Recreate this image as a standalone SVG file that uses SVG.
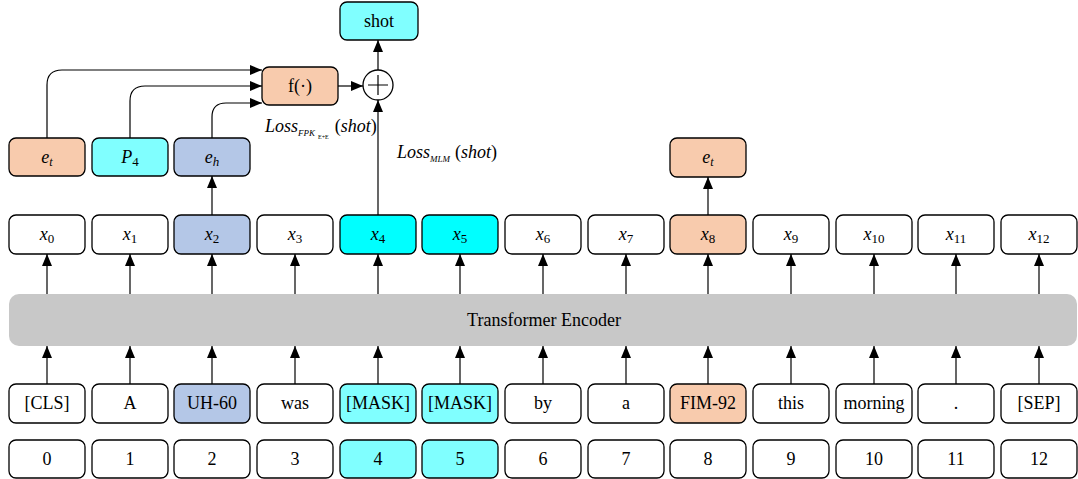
<svg xmlns="http://www.w3.org/2000/svg" width="1078" height="479" viewBox="0 0 1078 479" font-family="'Liberation Serif', 'Times New Roman', Tinos, 'DejaVu Serif', serif">
<defs>
<marker id="ah" markerUnits="userSpaceOnUse" markerWidth="12" markerHeight="14" refX="12" refY="5" orient="auto">
<path d="M0,0 L12,5 L0,10 Z" fill="#000"/>
</marker>
<style>
.b{stroke:#000;stroke-width:1.3;}
.w{fill:#fff;}
.pe{fill:#F8CBAD;}
.lc{fill:#80FFFF;}
.bc{fill:#00FFFF;}
.bl{fill:#B4C7E7;}
.t{font-size:18px;text-anchor:middle;}
.i{font-style:italic;}
.c{fill:none;stroke:#000;stroke-width:1.2;}
</style>
</defs>
<rect x="9" y="294" width="1068" height="52" rx="10" fill="#C8C8C8"/>
<text x="544" y="326" class="t" font-size="17">Transformer Encoder</text>
<g id="connectors">
<path class="c" d="M47,384 V346" marker-end="url(#ah)"/>
<path class="c" d="M130,384 V346" marker-end="url(#ah)"/>
<path class="c" d="M212,384 V346" marker-end="url(#ah)"/>
<path class="c" d="M295,384 V346" marker-end="url(#ah)"/>
<path class="c" d="M378,384 V346" marker-end="url(#ah)"/>
<path class="c" d="M460,384 V346" marker-end="url(#ah)"/>
<path class="c" d="M543,384 V346" marker-end="url(#ah)"/>
<path class="c" d="M626,384 V346" marker-end="url(#ah)"/>
<path class="c" d="M708,384 V346" marker-end="url(#ah)"/>
<path class="c" d="M791,384 V346" marker-end="url(#ah)"/>
<path class="c" d="M874,384 V346" marker-end="url(#ah)"/>
<path class="c" d="M956,384 V346" marker-end="url(#ah)"/>
<path class="c" d="M1039,384 V346" marker-end="url(#ah)"/>
<path class="c" d="M47,294 V254" marker-end="url(#ah)"/>
<path class="c" d="M130,294 V254" marker-end="url(#ah)"/>
<path class="c" d="M212,294 V254" marker-end="url(#ah)"/>
<path class="c" d="M295,294 V254" marker-end="url(#ah)"/>
<path class="c" d="M378,294 V254" marker-end="url(#ah)"/>
<path class="c" d="M460,294 V254" marker-end="url(#ah)"/>
<path class="c" d="M543,294 V254" marker-end="url(#ah)"/>
<path class="c" d="M626,294 V254" marker-end="url(#ah)"/>
<path class="c" d="M708,294 V254" marker-end="url(#ah)"/>
<path class="c" d="M791,294 V254" marker-end="url(#ah)"/>
<path class="c" d="M874,294 V254" marker-end="url(#ah)"/>
<path class="c" d="M956,294 V254" marker-end="url(#ah)"/>
<path class="c" d="M1039,294 V254" marker-end="url(#ah)"/>
<path class="c" d="M212,215 V176" marker-end="url(#ah)"/>
<path class="c" d="M708,215 V177" marker-end="url(#ah)"/>
<path class="c" d="M378,215 V100" marker-end="url(#ah)"/>
<path class="c" d="M47,138 V85 Q47,70 62,70 H262" marker-end="url(#ah)"/>
<path class="c" d="M130,138 V101 Q130,86 145,86 H262" marker-end="url(#ah)"/>
<path class="c" d="M212,138 V117 Q212,103 226,103 H262" marker-end="url(#ah)"/>
<path class="c" d="M338,86 H363" marker-end="url(#ah)"/>
<path class="c" d="M378,70 V40" marker-end="url(#ah)"/>
</g>
<g id="shot"><rect class="b lc" x="340" y="2" width="78" height="38" rx="7"/><text class="t" x="379" y="27">shot</text></g>
<g id="f"><rect class="b pe" x="262" y="67" width="76" height="38" rx="7"/><text class="t" x="300" y="92">f(·)</text></g>
<g id="plus"><circle cx="378" cy="85" r="15" fill="#fff" stroke="#000" stroke-width="1.3"/><path d="M368,85 H388 M378,75 V95" stroke="#000" stroke-width="1.2"/></g>
<g id="lossfpk"><text x="265" y="132" font-size="18"><tspan class="i">Loss</tspan><tspan class="i" font-size="9" dy="4">FPK</tspan><tspan font-size="6" dy="3" dx="3">E+E</tspan><tspan dy="-7" dx="6">(</tspan><tspan class="i">shot</tspan><tspan>)</tspan></text></g>
<g id="lossmlm"><text x="397" y="158" font-size="18"><tspan class="i">Loss</tspan><tspan class="i" font-size="9" dy="4">MLM</tspan><tspan dy="-4" dx="5">(</tspan><tspan class="i">shot</tspan><tspan>)</tspan></text></g>
<g id="et1"><rect class="b pe" x="9" y="138" width="76" height="38" rx="7"/><text class="t" x="47" y="163"><tspan class="i">e</tspan><tspan class="i" font-size="12" dy="3">t</tspan></text></g>
<g id="p4"><rect class="b lc" x="92" y="138" width="76" height="38" rx="7"/><text class="t" x="130" y="163"><tspan class="i">P</tspan><tspan font-size="13" dy="3">4</tspan></text></g>
<g id="eh"><rect class="b bl" x="174" y="138" width="76" height="38" rx="7"/><text class="t" x="212" y="163"><tspan class="i">e</tspan><tspan class="i" font-size="13" dy="3">h</tspan></text></g>
<g id="et2"><rect class="b pe" x="670" y="138" width="76" height="39" rx="7"/><text class="t" x="708" y="163"><tspan class="i">e</tspan><tspan class="i" font-size="12" dy="3">t</tspan></text></g>
<g id="x0"><rect class="b w" x="9" y="215" width="76" height="39" rx="7"/><text class="t" x="47" y="240"><tspan class="i">x</tspan><tspan font-size="13" dy="3">0</tspan></text></g>
<g id="x1"><rect class="b w" x="92" y="215" width="76" height="39" rx="7"/><text class="t" x="130" y="240"><tspan class="i">x</tspan><tspan font-size="13" dy="3">1</tspan></text></g>
<g id="x2"><rect class="b bl" x="174" y="215" width="76" height="39" rx="7"/><text class="t" x="212" y="240"><tspan class="i">x</tspan><tspan font-size="13" dy="3">2</tspan></text></g>
<g id="x3"><rect class="b w" x="257" y="215" width="76" height="39" rx="7"/><text class="t" x="295" y="240"><tspan class="i">x</tspan><tspan font-size="13" dy="3">3</tspan></text></g>
<g id="x4"><rect class="b bc" x="340" y="215" width="76" height="39" rx="7"/><text class="t" x="378" y="240"><tspan class="i">x</tspan><tspan font-size="13" dy="3">4</tspan></text></g>
<g id="x5"><rect class="b bc" x="422" y="215" width="76" height="39" rx="7"/><text class="t" x="460" y="240"><tspan class="i">x</tspan><tspan font-size="13" dy="3">5</tspan></text></g>
<g id="x6"><rect class="b w" x="505" y="215" width="76" height="39" rx="7"/><text class="t" x="543" y="240"><tspan class="i">x</tspan><tspan font-size="13" dy="3">6</tspan></text></g>
<g id="x7"><rect class="b w" x="588" y="215" width="76" height="39" rx="7"/><text class="t" x="626" y="240"><tspan class="i">x</tspan><tspan font-size="13" dy="3">7</tspan></text></g>
<g id="x8"><rect class="b pe" x="670" y="215" width="76" height="39" rx="7"/><text class="t" x="708" y="240"><tspan class="i">x</tspan><tspan font-size="13" dy="3">8</tspan></text></g>
<g id="x9"><rect class="b w" x="753" y="215" width="76" height="39" rx="7"/><text class="t" x="791" y="240"><tspan class="i">x</tspan><tspan font-size="13" dy="3">9</tspan></text></g>
<g id="x10"><rect class="b w" x="836" y="215" width="76" height="39" rx="7"/><text class="t" x="874" y="240"><tspan class="i">x</tspan><tspan font-size="13" dy="3">10</tspan></text></g>
<g id="x11"><rect class="b w" x="918" y="215" width="76" height="39" rx="7"/><text class="t" x="956" y="240"><tspan class="i">x</tspan><tspan font-size="13" dy="3">11</tspan></text></g>
<g id="x12"><rect class="b w" x="1001" y="215" width="76" height="39" rx="7"/><text class="t" x="1039" y="240"><tspan class="i">x</tspan><tspan font-size="13" dy="3">12</tspan></text></g>
<g id="tok0"><rect class="b w" x="9" y="384" width="76" height="39" rx="7"/><text class="t" x="47" y="409">[CLS]</text></g>
<g id="tok1"><rect class="b w" x="92" y="384" width="76" height="39" rx="7"/><text class="t" x="130" y="409">A</text></g>
<g id="tok2"><rect class="b bl" x="174" y="384" width="76" height="39" rx="7"/><text class="t" x="212" y="409">UH-60</text></g>
<g id="tok3"><rect class="b w" x="257" y="384" width="76" height="39" rx="7"/><text class="t" x="295" y="409">was</text></g>
<g id="tok4"><rect class="b lc" x="340" y="384" width="76" height="39" rx="7"/><text class="t" x="378" y="409">[MASK]</text></g>
<g id="tok5"><rect class="b lc" x="422" y="384" width="76" height="39" rx="7"/><text class="t" x="460" y="409">[MASK]</text></g>
<g id="tok6"><rect class="b w" x="505" y="384" width="76" height="39" rx="7"/><text class="t" x="543" y="409">by</text></g>
<g id="tok7"><rect class="b w" x="588" y="384" width="76" height="39" rx="7"/><text class="t" x="626" y="409">a</text></g>
<g id="tok8"><rect class="b pe" x="670" y="384" width="76" height="39" rx="7"/><text class="t" x="708" y="409">FIM-92</text></g>
<g id="tok9"><rect class="b w" x="753" y="384" width="76" height="39" rx="7"/><text class="t" x="791" y="409">this</text></g>
<g id="tok10"><rect class="b w" x="836" y="384" width="76" height="39" rx="7"/><text class="t" x="874" y="409">morning</text></g>
<g id="tok11"><rect class="b w" x="918" y="384" width="76" height="39" rx="7"/><text class="t" x="956" y="409">.</text></g>
<g id="tok12"><rect class="b w" x="1001" y="384" width="76" height="39" rx="7"/><text class="t" x="1039" y="409">[SEP]</text></g>
<g id="idx0"><rect class="b w" x="9" y="440" width="76" height="38" rx="7"/><text class="t" x="47" y="465">0</text></g>
<g id="idx1"><rect class="b w" x="92" y="440" width="76" height="38" rx="7"/><text class="t" x="130" y="465">1</text></g>
<g id="idx2"><rect class="b w" x="174" y="440" width="76" height="38" rx="7"/><text class="t" x="212" y="465">2</text></g>
<g id="idx3"><rect class="b w" x="257" y="440" width="76" height="38" rx="7"/><text class="t" x="295" y="465">3</text></g>
<g id="idx4"><rect class="b lc" x="340" y="440" width="76" height="38" rx="7"/><text class="t" x="378" y="465">4</text></g>
<g id="idx5"><rect class="b lc" x="422" y="440" width="76" height="38" rx="7"/><text class="t" x="460" y="465">5</text></g>
<g id="idx6"><rect class="b w" x="505" y="440" width="76" height="38" rx="7"/><text class="t" x="543" y="465">6</text></g>
<g id="idx7"><rect class="b w" x="588" y="440" width="76" height="38" rx="7"/><text class="t" x="626" y="465">7</text></g>
<g id="idx8"><rect class="b w" x="670" y="440" width="76" height="38" rx="7"/><text class="t" x="708" y="465">8</text></g>
<g id="idx9"><rect class="b w" x="753" y="440" width="76" height="38" rx="7"/><text class="t" x="791" y="465">9</text></g>
<g id="idx10"><rect class="b w" x="836" y="440" width="76" height="38" rx="7"/><text class="t" x="874" y="465">10</text></g>
<g id="idx11"><rect class="b w" x="918" y="440" width="76" height="38" rx="7"/><text class="t" x="956" y="465">11</text></g>
<g id="idx12"><rect class="b w" x="1001" y="440" width="76" height="38" rx="7"/><text class="t" x="1039" y="465">12</text></g>
</svg>
